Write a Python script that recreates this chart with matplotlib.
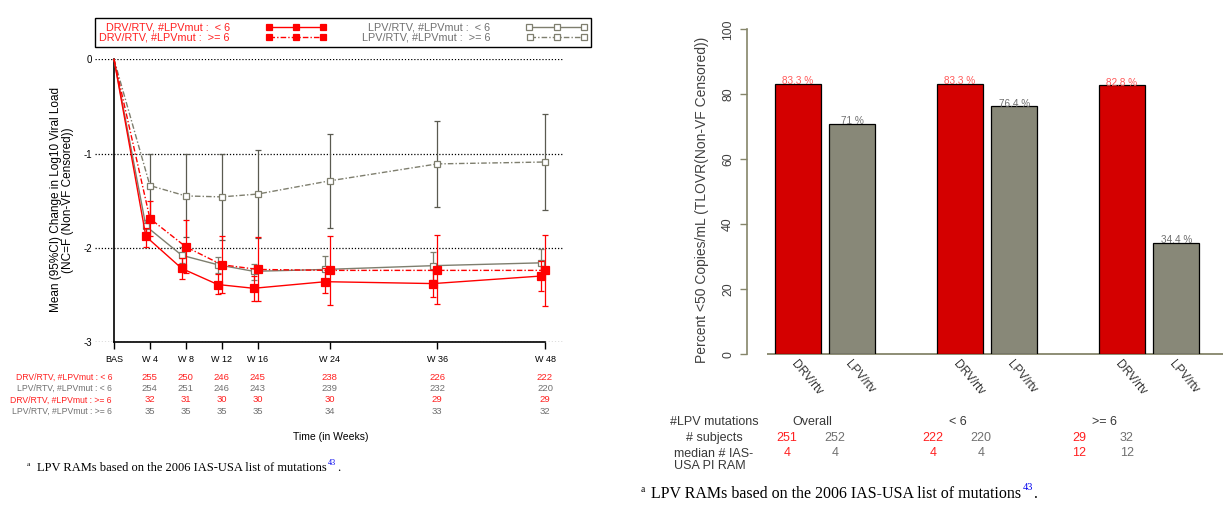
import matplotlib
matplotlib.use('Agg')
import matplotlib.pyplot as plt
from matplotlib.lines import Line2D
from matplotlib.transforms import blended_transform_factory
import numpy as np

plt.rcParams['font.family'] = ['Liberation Sans', 'DejaVu Sans']
plt.rcParams['axes.unicode_minus'] = False

# ---------------- data: left panel ----------------
weeks = [0, 4, 8, 12, 16, 24, 36, 48]
week_labels = ['BAS', 'W 4', 'W 8', 'W 12', 'W 16', 'W 24', 'W 36', 'W 48']

drv_lt6_mean = [0, -1.88, -2.22, -2.39, -2.43, -2.36, -2.38, -2.30]
drv_lt6_lo = [0, -1.99, -2.33, -2.49, -2.56, -2.48, -2.52, -2.46]
drv_lt6_hi = [0, -1.79, -2.11, -2.28, -2.30, -2.22, -2.24, -2.14]

drv_ge6_mean = [0, -1.69, -1.99, -2.18, -2.23, -2.24, -2.24, -2.24]
drv_ge6_lo = [0, -1.88, -2.27, -2.48, -2.57, -2.61, -2.60, -2.62]
drv_ge6_hi = [0, -1.50, -1.71, -1.88, -1.89, -1.87, -1.86, -1.86]

lpv_lt6_mean = [0, -1.77, -2.08, -2.18, -2.25, -2.23, -2.19, -2.16]
lpv_lt6_lo = [0, -1.83, -2.16, -2.27, -2.34, -2.37, -2.34, -2.31]
lpv_lt6_hi = [0, -1.71, -1.99, -2.10, -2.17, -2.09, -2.05, -2.01]

lpv_ge6_mean = [0, -1.34, -1.45, -1.46, -1.43, -1.29, -1.11, -1.09]
lpv_ge6_lo = [0, -1.68, -1.89, -1.92, -1.90, -1.79, -1.57, -1.60]
lpv_ge6_hi = [0, -1.00, -1.01, -1.00, -0.96, -0.79, -0.66, -0.58]

n_drv_lt6 = [255, 250, 246, 245, 238, 226, 222]
n_lpv_lt6 = [254, 251, 246, 243, 239, 232, 220]
n_drv_ge6 = [32, 31, 30, 30, 30, 29, 29]
n_lpv_ge6 = [35, 35, 35, 35, 34, 33, 32]

series_labels = ['DRV/RTV, #LPVmut :  < 6', 'DRV/RTV, #LPVmut :  >= 6',
                 'LPV/RTV, #LPVmut :  < 6', 'LPV/RTV, #LPVmut :  >= 6']

# ---------------- data: right panel ----------------
groups = ['Overall', '< 6', '>= 6']
drv_pct = [83.3, 83.3, 82.8]
lpv_pct = [71.0, 76.4, 34.4]
drv_pct_lab = ['83.3 %', '83.3 %', '82.8 %']
lpv_pct_lab = ['71 %', '76.4 %', '34.4 %']
bar_labels = ['DRV/rtv', 'LPV/rtv']
subj_drv = [251, 222, 29]
subj_lpv = [252, 220, 32]
ram_drv = [4, 4, 12]
ram_lpv = [4, 4, 12]

# ---------------- styles ----------------
RED = '#FF0000'
GRAY = '#7E7E6E'
DGRAY = '#5A5A50'
TRED = '#FF2020'
TGRAY = '#707070'
W, H = 1223, 505


def fx(p):
    return p / W


def fy(p):
    return 1 - p / H


fig = plt.figure(figsize=(W / 100, H / 100), dpi=100)

# ================= LEFT PANEL =================
axL = fig.add_axes([fx(95), fy(342), (563 - 95) / W, (342 - 59.3) / H])
axL.set_xlim((95 - 114) / 8.98, (563 - 114) / 8.98)
axL.set_ylim(-3, 0)
for s in axL.spines.values():
    s.set_visible(False)
for yv in [0, -1, -2, -3]:
    axL.axhline(yv, color='black', lw=0.9, ls=(0, (1, 1.5)), zorder=1)
axL.plot([0, 0], [0, -3], color='black', lw=1.2, clip_on=False, zorder=2)
axL.plot([0, 48], [-3, -3], color='black', lw=1.2, clip_on=False, zorder=2)
axL.set_xticks(weeks)
axL.set_xticklabels(week_labels, fontsize=6.5)
axL.tick_params(axis='x', direction='out', length=5, width=1, pad=4)
axL.set_yticks([0, -1, -2, -3])
axL.set_yticklabels(['0', '-1', '-2', '-3'], fontsize=7)
axL.tick_params(axis='y', length=0, pad=2)

dodge = {'lt6': -0.45, 'ge6': 0.0}
specs = [
    (drv_lt6_mean, drv_lt6_lo, drv_lt6_hi, 'lt6', RED, RED, '-', RED, 6, 5),
    (drv_ge6_mean, drv_ge6_lo, drv_ge6_hi, 'ge6', RED, RED, (0, (4, 1.5, 1, 1.5)), RED, 6, 6),
    (lpv_lt6_mean, lpv_lt6_lo, lpv_lt6_hi, 'lt6', GRAY, GRAY, '-', 'white', 5, 4),
    (lpv_ge6_mean, lpv_ge6_lo, lpv_ge6_hi, 'ge6', GRAY, DGRAY, (0, (4, 1.5, 1, 1.5)), 'white', 5, 3),
]
handles = []
for mean, lo, hi, grp, col, ecol, ls, mfc, ms, z in specs:
    x = np.array(weeks, dtype=float)
    x[1:] = x[1:] + dodge[grp]
    m = np.array(mean)
    err = [m[1:] - np.array(lo[1:]), np.array(hi[1:]) - m[1:]]
    axL.errorbar(x[1:], m[1:], yerr=err, fmt='none', ecolor=ecol, elinewidth=0.9,
                 capsize=2, capthick=0.9, zorder=z)
    axL.plot(x, m, color=col, ls=ls, lw=1.0, marker='s', ms=ms, mfc=mfc, mec=col,
             mew=0.9, markevery=list(range(1, len(x))), zorder=z + 0.5, clip_on=False)
    handles.append(Line2D([], [], color=col, ls=ls, lw=1.0, marker='s', ms=ms - 1,
                          mfc=mfc, mec=col, mew=0.9))

leg = fig.legend(handles=handles, labels=series_labels, ncol=2, markerfirst=False,
                 numpoints=3, handlelength=5.6, handletextpad=3.3, columnspacing=3.3,
                 labelspacing=0.0, borderpad=0.4, fancybox=False, edgecolor='black',
                 framealpha=1, loc='upper left', bbox_to_anchor=(fx(95), fy(18)),
                 borderaxespad=0, fontsize=7.8)
leg.get_frame().set_linewidth(1.0)
for t, c in zip(leg.get_texts(), [TRED, TRED, TGRAY, TGRAY]):
    t.set_color(c)

# at-risk table
trans = blended_transform_factory(axL.transData, fig.transFigure)
rows = [(n_drv_lt6, TRED), (n_lpv_lt6, TGRAY), (n_drv_ge6, TRED), (n_lpv_ge6, TGRAY)]
row_y = [377, 388.5, 400, 411.5]
for (vals, col), yy, lab in zip(rows, row_y, [series_labels[0], series_labels[2],
                                             series_labels[1], series_labels[3]]):
    fig.text(fx(112), fy(yy), lab.replace(':  ', ': '), ha='right', va='center',
             fontsize=6.2, color=col)
    for wk, v in zip(weeks[1:], vals):
        axL.text(wk, fy(yy), str(v), transform=trans, ha='center', va='center',
                 fontsize=6.8, color=col)

fig.text(fx(331), fy(437), 'Time (in Weeks)', ha='center', va='center', fontsize=7.5)
fig.text(fx(62), fy(200), 'Mean (95%CI) Change in Log10 Viral Load\n(NC=F (Non-VF Censored))',
         rotation=90, ha='center', va='center', fontsize=8.5, linespacing=0.95)

# ================= RIGHT PANEL =================
def gx(p):
    return (p - 825.1) / 162.0


OLIVE = '#85856A'
axR = fig.add_axes([fx(746.7), fy(354.3), (1223 - 746.7) / W, (354.3 - 29.3) / H])
axR.set_xlim(gx(746.7), gx(1223))
axR.set_ylim(0, 100)
for k in ['top', 'right', 'bottom']:
    axR.spines[k].set_visible(False)
axR.spines['left'].set_color(OLIVE)
axR.spines['left'].set_linewidth(1.2)
g = np.arange(len(groups))
off, bw = 0.1675, 0.281
axR.hlines(0, gx(766.7), gx(1223), color=OLIVE, lw=1.3, clip_on=False, zorder=1)
axR.bar(g - off, drv_pct, width=bw, color='#D40000', edgecolor='black', lw=0.9, zorder=2)
axR.bar(g + off, lpv_pct, width=bw, color='#888878', edgecolor='black', lw=0.9, zorder=2)
for xi, v, lab in zip(g - off, drv_pct, drv_pct_lab):
    axR.text(xi, v - 0.8, lab, ha='center', va='bottom', fontsize=7.2, color='#FF5A5A', zorder=3)
for xi, v, lab in zip(g + off, lpv_pct, lpv_pct_lab):
    axR.text(xi, v - 0.8, lab, ha='center', va='bottom', fontsize=7.2, color='#707070', zorder=3)

xt = np.sort(np.concatenate([g - off, g + off]))
axR.set_xticks(xt)
axR.set_xticklabels(bar_labels * len(groups), fontsize=8.6, color='#303030')
axR.tick_params(axis='x', length=0, pad=3)
for lab in axR.get_xticklabels():
    lab.set_rotation(-50)
    lab.set_ha('left')
    lab.set_va('top')
    lab.set_rotation_mode('anchor')
axR.set_yticks(range(0, 101, 20))
axR.set_yticklabels([str(v) for v in range(0, 101, 20)], rotation=90, va='center',
                    fontsize=8.8, color='#404040')
axR.tick_params(axis='y', direction='out', length=5, color=OLIVE, width=1.0, pad=4)
fig.text(fx(702), fy(200), 'Percent <50 Copies/mL (TLOVR(Non-VF Censored))',
         rotation=90, ha='center', va='center', fontsize=10, color='#404040')

# right table
TDARK = '#383838'
TFS = 9
fig.text(fx(714), fy(422), '#LPV mutations', ha='center', va='center', fontsize=TFS, color=TDARK)
fig.text(fx(714), fy(438), '# subjects', ha='center', va='center', fontsize=TFS, color=TDARK)
fig.text(fx(714), fy(460), 'median # IAS-\nUSA PI RAM', ha='center', va='center',
         multialignment='left', fontsize=TFS, color=TDARK, linespacing=1.05)
for i, name in enumerate(groups):
    base = 787 + 146 * i
    fig.text(fx(base + 25), fy(422), name, ha='center', va='center', fontsize=TFS, color=TDARK)
    fig.text(fx(base), fy(438), str(subj_drv[i]), ha='center', va='center', fontsize=TFS, color=TRED)
    fig.text(fx(base + 48), fy(438), str(subj_lpv[i]), ha='center', va='center', fontsize=TFS, color=TGRAY)
    fig.text(fx(base), fy(453), str(ram_drv[i]), ha='center', va='center', fontsize=TFS, color=TRED)
    fig.text(fx(base + 48), fy(453), str(ram_lpv[i]), ha='center', va='center', fontsize=TFS, color=TGRAY)


# ================= FOOTNOTES =================
def footnote(x, ybase, fs):
    fig.text(fx(x - 10), fy(ybase - fs * 0.55), 'a', fontsize=fs * 0.6,
             family='Liberation Serif', va='baseline', ha='left')
    t = fig.text(fx(x), fy(ybase), 'LPV RAMs based on the 2006 IAS-USA list of mutations',
                 fontsize=fs, family='Liberation Serif', va='baseline', ha='left')
    a43 = axL.annotate('43', xy=(1, 0.62), xycoords=t, xytext=(1, 0), textcoords='offset points',
                       fontsize=fs * 0.65, color='#0000EE', family='Liberation Serif',
                       va='bottom', ha='left', annotation_clip=False)
    axL.annotate('.', xy=(1, 0), xycoords=(a43, t), xytext=(0.5, 0), textcoords='offset points',
                 fontsize=fs, family='Liberation Serif', va='bottom', ha='left',
                 annotation_clip=False)


footnote(37, 471, 9)
footnote(651, 498, 11.5)

fig.savefig('out.png', dpi=100)
